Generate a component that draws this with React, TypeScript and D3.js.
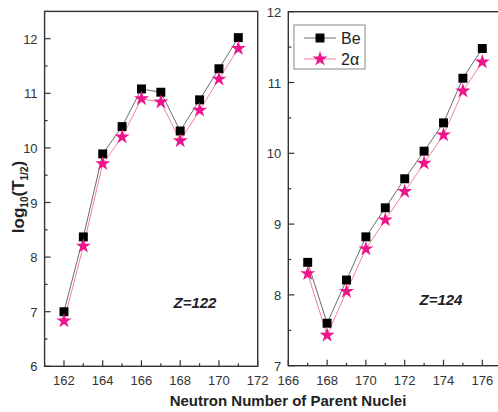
import React from "react";
import * as d3 from "d3";

const nLeft = [162, 163, 164, 165, 166, 167, 168, 169, 170, 171];
const beLeft = [7.0, 8.37, 9.89, 10.39, 11.08, 11.02, 10.31, 10.88, 11.45, 12.02];
const alphaLeft = [6.83, 8.2, 9.71, 10.2, 10.9, 10.84, 10.13, 10.69, 11.26, 11.82];

const nRight = [167, 168, 169, 170, 171, 172, 173, 174, 175, 176];
const beRight = [8.46, 7.6, 8.21, 8.82, 9.23, 9.64, 10.03, 10.43, 11.06, 11.48];
const alphaRight = [8.3, 7.43, 8.05, 8.65, 9.06, 9.46, 9.86, 10.26, 10.88, 11.29];

const leftXTicks = [162, 164, 166, 168, 170, 172];
const leftYTicks = [6, 7, 8, 9, 10, 11, 12];
const rightXTicks = [166, 168, 170, 172, 174, 176];
const rightYTicks = [7, 8, 9, 10, 11, 12];

const seriesNames = ["Be", "2\u03b1"];
const panelLabels = ["Z=122", "Z=124"];

const FONT = "'Liberation Sans', Arial, sans-serif";
const BE_COLOR = "#000";
const BE_LINE = "#444";
const A_COLOR = "#f0148c";
const A_LINE = "#f06080";
const AXIS = "#333";

const squarePath = d3.symbol(d3.symbolSquare, 80)() as string;
const starPath = d3.symbol(d3.symbolStar, 70)() as string;

type PanelProps = {
  x0: number; x1: number; y0: number; y1: number;
  xDomain: [number, number]; yDomain: [number, number];
  xTicks: number[]; yTicks: number[];
  ns: number[]; be: number[]; al: number[];
  label: string; labelPos: [number, number];
  legend?: boolean;
};

function Panel(p: PanelProps) {
  const x = d3.scaleLinear().domain(p.xDomain).range([p.x0, p.x1]);
  const y = d3.scaleLinear().domain(p.yDomain).range([p.y1, p.y0]);
  const line = d3.line<[number, number]>().x((d) => x(d[0])).y((d) => y(d[1]));
  const beData = p.ns.map((n, i) => [n, p.be[i]] as [number, number]);
  const alData = p.ns.map((n, i) => [n, p.al[i]] as [number, number]);
  const xMinor: number[] = [];
  for (let v = Math.ceil(p.xDomain[0]); v <= p.xDomain[1]; v++) if (!p.xTicks.includes(v)) xMinor.push(v);
  const yMinor: number[] = [];
  for (let v = p.yDomain[0] + 0.5; v < p.yDomain[1] + 0.01; v += 1) yMinor.push(v);
  return (
    <g>
      <rect x={p.x0} y={p.y0} width={p.x1 - p.x0} height={p.y1 - p.y0} fill="none" stroke={AXIS} strokeWidth={1.4} />
      {p.xTicks.map((t) => (
        <g key={"xt" + t}>
          <line x1={x(t)} x2={x(t)} y1={p.y1} y2={p.y1 - 6} stroke={AXIS} strokeWidth={1.2} />
          <text x={x(t)} y={p.y1 + 19} textAnchor="middle" fontSize={13} fill="#333" fontFamily={FONT}>{t}</text>
        </g>
      ))}
      {xMinor.map((t) => (
        <line key={"xm" + t} x1={x(t)} x2={x(t)} y1={p.y1} y2={p.y1 - 3} stroke={AXIS} strokeWidth={1.2} />
      ))}
      {p.yTicks.map((t) => (
        <g key={"yt" + t}>
          <line x1={p.x0} x2={p.x0 + 6} y1={y(t)} y2={y(t)} stroke={AXIS} strokeWidth={1.2} />
          <text x={p.x0 - 7} y={y(t) + 5} textAnchor="end" fontSize={13} fill="#333" fontFamily={FONT}>{t}</text>
        </g>
      ))}
      {yMinor.map((t) => (
        <line key={"ym" + t} x1={p.x0} x2={p.x0 + 3} y1={y(t)} y2={y(t)} stroke={AXIS} strokeWidth={1.2} />
      ))}
      <path d={line(beData) as string} fill="none" stroke={BE_LINE} strokeWidth={0.8} />
      <path d={line(alData) as string} fill="none" stroke={A_LINE} strokeWidth={0.8} />
      {beData.map((d, i) => (
        <path key={"b" + i} d={squarePath} transform={`translate(${x(d[0])},${y(d[1])})`} fill={BE_COLOR} />
      ))}
      {alData.map((d, i) => (
        <path key={"a" + i} d={starPath} transform={`translate(${x(d[0])},${y(d[1])})`} fill={A_COLOR} />
      ))}
      <text x={p.labelPos[0]} y={p.labelPos[1]} textAnchor="middle" fontSize={15} fontWeight="bold" fontStyle="italic" fontFamily={FONT} fill="#222">{p.label}</text>
      {p.legend && (
        <g>
          <rect x={294} y={25} width={71} height={44} fill="#fff" stroke="#888" strokeWidth={1} />
          <line x1={304} x2={336} y1={38} y2={38} stroke={BE_LINE} strokeWidth={0.8} />
          <path d={squarePath} transform="translate(320,38)" fill={BE_COLOR} />
          <text x={341} y={44} fontSize={16} fontFamily={FONT} fill="#222">{seriesNames[0]}</text>
          <line x1={304} x2={336} y1={59} y2={59} stroke={A_LINE} strokeWidth={0.8} />
          <path d={starPath} transform="translate(320,59)" fill={A_COLOR} />
          <text x={341} y={65} fontSize={16} fontFamily={FONT} fill="#222">{seriesNames[1]}</text>
        </g>
      )}
    </g>
  );
}

export default function App() {
  return (
    <svg width={498} height={412} style={{ position: "absolute", left: 0, top: 0, background: "#fff" }}>
      <rect width={498} height={412} fill="#fff" />
      <Panel x0={44.6} x1={257.7} y0={11.4} y1={366.3} xDomain={[161, 172]} yDomain={[6, 12.5]}
        xTicks={leftXTicks} yTicks={leftYTicks} ns={nLeft} be={beLeft} al={alphaLeft}
        label={panelLabels[0]} labelPos={[195, 308]} />
      <Panel x0={288.3} x1={501.7} y0={11.7} y1={365.7} xDomain={[166, 177]} yDomain={[7, 12]}
        xTicks={rightXTicks} yTicks={rightYTicks} ns={nRight} be={beRight} al={alphaRight}
        label={panelLabels[1]} labelPos={[441, 305]} legend />
      <text transform="translate(24,197) rotate(-90)" textAnchor="middle" fontSize={17} fontWeight="bold" fontFamily={FONT} fill="#222">
        log<tspan fontSize={10} dy={4}>10</tspan><tspan dy={-4}>(T</tspan><tspan fontSize={10} dy={4}>1/2</tspan><tspan dy={-4}>)</tspan>
      </text>
      <text x={288} y={406} textAnchor="middle" fontSize={15} fontWeight="bold" fontFamily={FONT} fill="#222">Neutron Number of Parent Nuclei</text>
    </svg>
  );
}
